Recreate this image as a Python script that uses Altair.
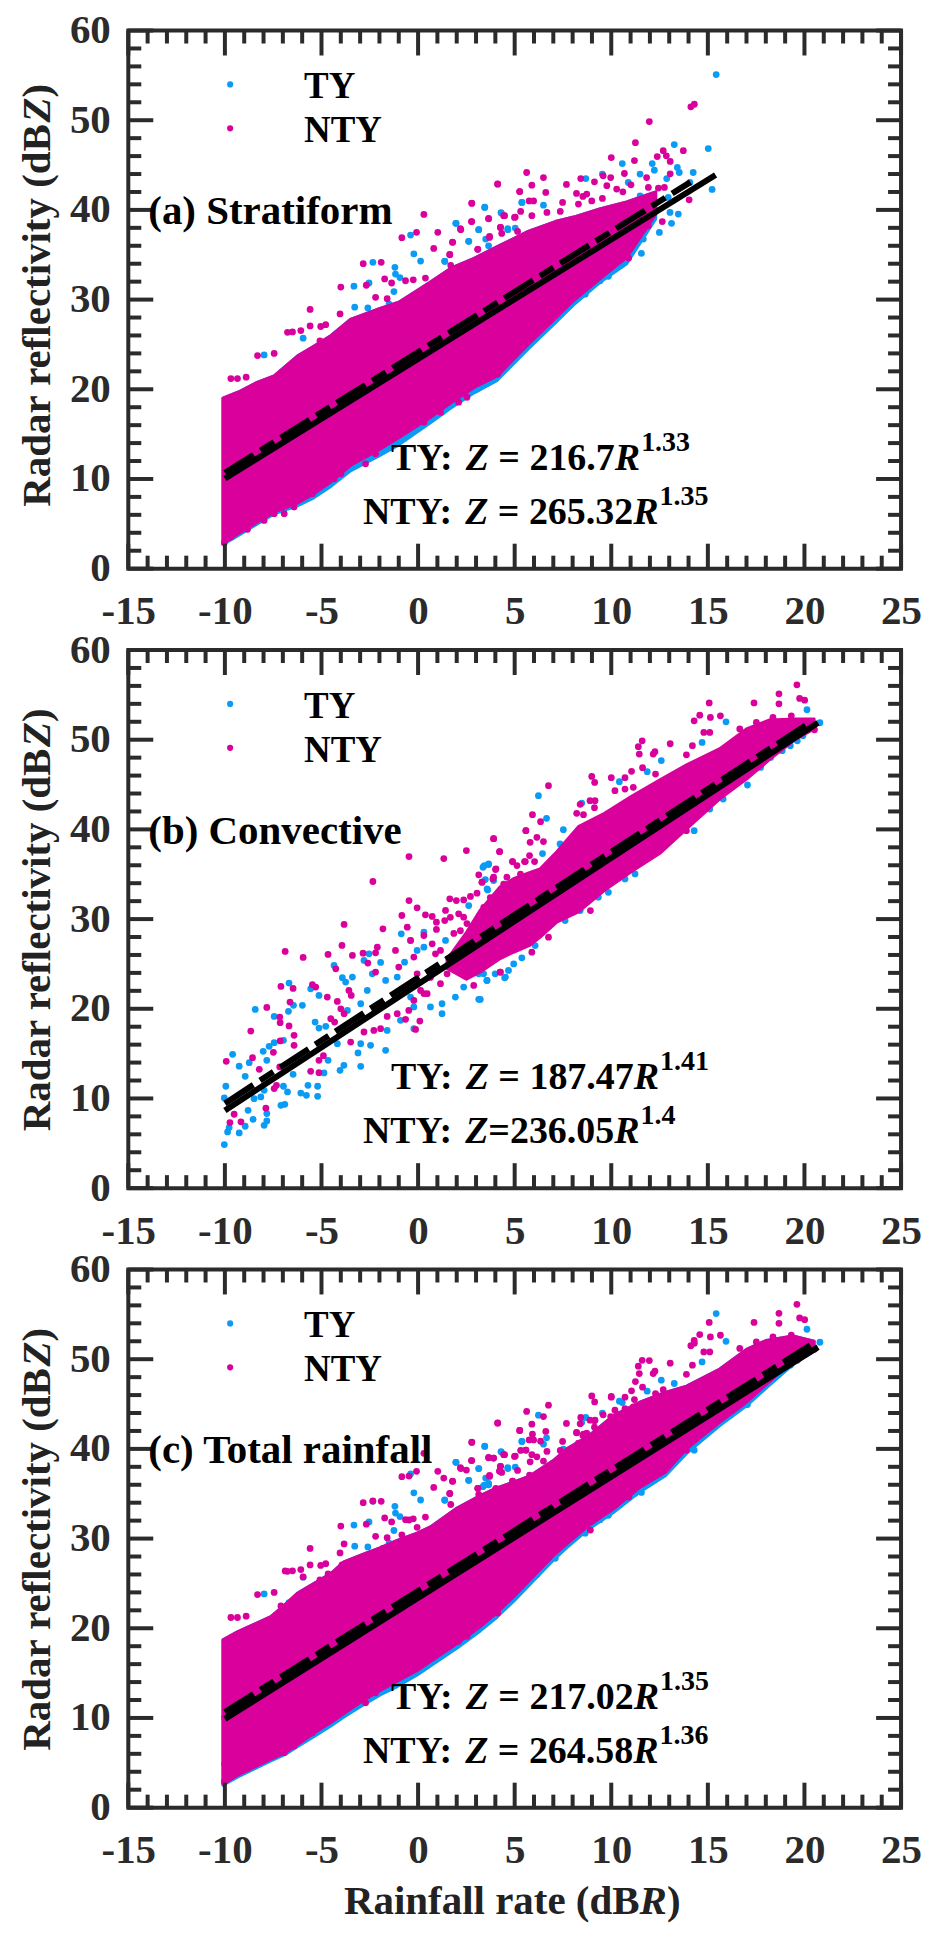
import altair as alt
import pandas as pd

BLUE = "#0b9bf5"
PINK = "#d9009b"
DARK = "#2b2b2b"
FONT = "Liberation Serif"

x_major = [-15, -10, -5, 0, 5, 10, 15, 20, 25]
x_minor = [-14, -13, -12, -11, -9, -8, -7, -6, -4, -3, -2, -1, 1, 2, 3, 4, 6, 7, 8, 9,
           11, 12, 13, 14, 16, 17, 18, 19, 21, 22, 23, 24]
y_major = [0, 10, 20, 30, 40, 50, 60]
y_minor = [2, 4, 6, 8, 12, 14, 16, 18, 22, 24, 26, 28, 32, 34, 36, 38, 42, 44, 46, 48, 52, 54, 56, 58]

# ---- panel (a) Stratiform: envelope of the dense cloud
a_x = [-10.1, -9.3, -8.3, -7.45, -6.25, -5.4, -4.5, -3.5, -2, -1, 0.6, 1.7, 2.9, 4.1, 5.7, 7.1, 8.05, 9.4, 10.8, 12.3]
a_top = [19.0, 19.7, 20.8, 21.5, 23.7, 24.8, 26, 27.8, 29, 29.7, 31.9, 33.5, 34.6, 35.9, 37.6, 38.7, 39.2, 40.1, 40.9, 42.0]
a_bot = [2.8, 3.9, 5.2, 6.3, 7.3, 8.35, 9.7, 11.5, 13.3, 14.6, 16.8, 18.5, 20.2, 21.5, 25, 27.9, 29.9, 32.3, 34.7, 39.5]
a_fringe = [2.7, 3.7, 5.0, 6.1, 7.0, 7.9, 9.2, 10.9, 12.6, 13.8, 16.2, 17.9, 19.6, 21.0, 24.5, 27.4, 29.4, 31.9, 34.0, 39.0]

a_blue_x = [-2.34, -0.39, -0.22, 0.13, 1.97, 3.45, 3.14, 2.62, 1.38, -1.2, -1.17, -0.94, -3.32, -2.54, -1.25, -3.28, -2.6, -1.5,
            -5.95, -7.97, -4.0, 5.38, 4.29, 4.64, -9.6,
            15.43, 15.02, 13.26, 10.57, 12.12, 15.22, 14.24, 13.42, 13.52, 12.23, 11.49, 8.68, 9.54, 10.88, 12.87,
            5.37, 6.49, 3.45, 1.95, 3.14, 2.62, 4.65, 4.31, 5.03, 1.38, 3.65, 3.5, 11.56, 13.04, 13.47, 13.12, 12.49,
            11.66, 10.45, 9.85, 9.42, 8.65, 7.1, 6.15, 5.72, 4.55, 3.99, 3.05, 3.22, 1.23, 14.07, 12.95, 11.49]
a_blue_y = [34.15, 37.2, 35.1, 34.3, 38.5, 40.3, 37.8, 36.5, 34.3, 33.6, 32.85, 32.45, 31.5, 31.85, 30.9, 29.15, 29.07, 29.5,
            25.7, 23.83, 26.4, 40.83, 39.7, 37.9, 18.9,
            55.09, 46.84, 47.29, 45.17, 45.17, 42.28, 44.17, 44.73, 44.17, 44.43, 44.0, 43.5, 44, 43.06, 43.5,
            40.83, 40.53, 40.27, 38.5, 37.8, 36.5, 37.8, 39.65, 37.97, 34.26, 36, 36.75, 35.15, 39.72, 39.53, 38.5, 37.49,
            36.75, 33.78, 32.6, 32.1, 30.6, 27.8, 26, 25.17, 23.09, 21.34, 20.04, 21.34, 17.45, 43.06, 41.39, 41.57]
a_pink_x = [4.12, 5.26, 2.78, 0.30, 3.65, 2.76, 4.43, 4.26, 2.19, 5.03, -0.08, -0.84, 1.02, 1.78, 0.81, 1.64, 3.7, 3.09,
            -2.84, -1.91, -4.0, -2.68, -1.73, -1.37, -0.65, -0.25, 0.38, -5.59, -2.2, -1.6, -6.76, -6.5, -6.07, -5.59,
            -5.04, -4.78, -5.08, -8.31, -7.45, -9.69, -9.35, -8.9, -4.04,
            14.3, 14.12, 11.97, 11.25, 12.69, 13.73, 12.38, 12.85, 13.05, 10.0, 11.2, 10.68, 13.05, 5.62, 6.49, 8.42,
            9.58, 9.97, 11.83, 4.12, 5.89, 7.68, 5.26, 6.61, 9.13, 5.75, 5.98, 2.78, 8.2, 8.73, 8.53, 9.54, 9.77, 10.28,
            10.6, 11.02, 11.92, 12.44, 12.75, 14.03, 7.48, 4.48, 5.31, 5.89, 3.65, 2.78, 2.21, 4.27, 4.33, 3.7, 1.79,
            3.09, 1.64, 1.69, 4.99, 6.67, 7.36, 8.3, 8.99, 5.15, 10.9, 11.3, 11.92, 12.64, 12.09, 11.66, 10.97, 4.12,
            -6.93, -8.83, -7.97, -7.45, -10.03, -9.69, -6.42, -5.47, -4.35, -4.0, -2.72, -2.2, 0.3, 1.16, 2.1, 2.53, 4.08]
a_pink_y = [42.9, 42.05, 40.76, 39.5, 39.05, 38.7, 39.35, 38.05, 37.9, 39.2, 37.5, 36.9, 37.5, 36.4, 35.7, 35.0, 37.05, 35.6,
            34.0, 34.15, 31.4, 31.6, 32.3, 31.85, 32.1, 32.2, 32.4, 28.9, 30.25, 30.1, 26.35, 26.4, 26.54, 27.06,
            27.0, 27.2, 25.4, 23.76, 24.0, 21.2, 21.2, 21.35, 28.4,
            51.78, 51.5, 49.85, 47.5, 46.6, 46.6, 45.95, 46.03, 45.4, 45.84, 45.5, 44.06, 44.02, 44.17, 43.6, 43.5,
            43.8, 43.6, 43.6, 42.87, 42.76, 42.84, 42.05, 41.95, 43.13, 41.0, 41.0, 40.72, 41.84, 41.76, 41.5, 41.28, 42.7, 42.32,
            42.02, 42.8, 42.5, 42.43, 42.5, 41.13, 40.83, 39.35, 39.83, 39.35, 39.0, 38.7, 37.8, 38.05, 37.38, 36.93, 36.38,
            35.6, 35.04, 33.8, 39.16, 39.72, 39.83, 40.65, 41, 37.6, 34.63, 36.75, 38.23, 38.7, 41.2, 37.86, 35.8, 21.7,
            6.13, 4.38, 5.38, 6.13, 2.9, 3.53, 6.87, 8.35, 10.02, 10.58, 11.69, 12.81, 16.33, 17.45, 18.56, 19.11, 22.27]

# ---- panel (b) Convective: envelope of the dense part
b_x = [1.5, 2.5, 3.22, 4.25, 4.94, 5.8, 6.32, 7.18, 8.3, 9.65, 11.05, 12.5, 13.9, 15.62, 17, 18.2, 19.5, 20.5]
b_top = [25.5, 28.5, 31, 33.6, 34.5, 35.2, 35.6, 37.5, 40.3, 41.8, 43.7, 45.5, 47.2, 49, 51.2, 52.2, 52.3, 52.3]
b_bot = [24.5, 23.3, 24.1, 25.6, 26.3, 27.1, 28.0, 29.65, 30.8, 33.2, 35.3, 37.3, 40.05, 43.4, 45.6, 47.8, 50.0, 51.2]

b_blue_x = [-10.03, -9.86, -9.78, -9.26, -8.95, -8.54, -7.97, -7.83, -8.8, -7.83, -7.1, -6.9, -5.7, -5.2, -6.07, -5.78, -5.2,
            -9.95, -10.03, -8.74, -9.6, -9.26, -8.95, -8.43, -7.45, -6.71, -6.45, -5.99, -6.68, -5.56, -5.13, -5.33, -5.13,
            -4.78, -8.02, -7.71, -7.45, -6.97, -7.83, -8.14, -8.49, -7.97, -6.97, -6.76, -6.47, -4.87, -4.04, -3.84, -2.97,
            -4.66, -3.11, -1.68, -4.35, -3.92, -3.4, -3.75, -2.8, -2.54, -1.94, -2.37, -1.68, -2.63, -2.97, -3.66, -4.18,
            -2.97, -2.46, -1.6, -0.91, -0.22, -0.87, -0.39, -0.05, 0.3, 0.3, -0.7, -1.08, -0.39, -0.22, 0.64, 1.24, 1.24,
            3.14, 3.43, 3.65, 3.57, 3.91, 2.62, 1.42, 3.57, 4.52, 4.95, 2.36, 1.93, 3.14,
            20.13, 20.8, 15.94, 12.59, 11.86, 10.42, 6.23, 6.65, 7.52, 8.47, 7.35, 6.44, 3.65, 3.36, 3.48, 3.6, 3.99,
            14.29, 13.98, 15.1, 15.79, 17.05, 17.73, 18.25, 18.85, 19.27, 19.63, 19.92, 11.23, 10.71, 9.85, 9.33, 8.39,
            7.61, 6.06, 5.37, 4.68, 4.48, 3.99, 3.56, 3.22, 3.39, 14.7]
b_blue_y = [4.86, 6.27, 6.75, 6.16, 6.9, 7.68, 7.01, 7.5, 8.68, 8.31, 9.24, 9.35, 11.47, 11.36, 10.6, 10.35, 10.24,
            11.36, 10.06, 13.99, 14.92, 13.6, 12.47, 19.93, 19.15, 19.71, 20.38, 20.38, 22.86, 22.23, 21.49, 18.52, 17.85,
            18.04, 15.25, 15.81, 16.22, 16.48, 14.25, 10.17, 9.98, 10.91, 11.36, 10.73, 12.69, 12.84, 13.14, 13.7, 13.58,
            14.25, 15.07, 15.37, 24.83, 23.46, 23.53, 22.98, 25.39, 26.13, 25.17, 23.9, 23.16, 22.05, 20.56, 19.82, 16.11,
            16.11, 15.92, 17.59, 18.71, 17.78, 28.36, 27.62, 26.5, 28.54, 26.87, 25.2, 23.53, 21.3, 20.2, 20.2, 19.45, 20.56,
            21.05, 35.97, 36.15, 33.37, 34.3, 31.51, 27.62, 23.16, 23.53, 25, 22.42, 21.3, 23.9,
            53.34, 51.89, 52, 47.66, 46.43, 45.32, 43.76, 41.23, 39.97, 42.94, 38.38, 37.3, 36.08, 35.78, 34.4, 33.25, 32.25,
            39.86, 40.6, 42.27, 43.39, 44.95, 46.91, 48.03, 48.77, 49.33, 49.88, 50.44, 35.04, 34.48, 32.99, 32.44, 30.95,
            29.84, 27.05, 25.68, 24.27, 23.45, 23.9, 23.16, 21.04, 23.9, 49.7]
b_pink_x = [-0.47, 1.33, 2.5, 3.91, 5.58, 4.22, -2.34, -3.83, -1.82, -0.84, -6.88, -5.95, -4.66, -3.94, -3.4, -2.85, -2.11, -2.2,
            -2.6, -2.2, -4.26, -8.66, -7.83, -7.1, -6.47, -5.47, -5.3, -6.63, -7.16, -7.14, -6.68, -4.7, -3.58, -3.46, -4.18,
            -4.0, -3.83, -4.52, -4.32, -6.42, -7.14, -6.42, -7.49, -8.57, -9.93, -8.22, -7.16, -7.45, -7.33, -5.56, -5.13,
            -5.13, -4.9, -7.88, -9.52, -9.74, -9.17, -3.49, -2.8, -2.29, -1.94, -1.6, -1.08, -0.65, -0.13, 0.09, -0.48, -1,
            -1.17, -0.56, -0.39, 0.3, -0.47, -0.05, 0.38, 0.73, 0.95, 0.95, 1.38, 1.64, 1.98, 2.36, 2.71, 3.05, 1.42, 3.14,
            3.31, 3.91, 4.03, 4.89, 5.12, 5.55, 4.26, 2.88, 2.36, 2.1, 0.73, 0.9, -0.22, -0.05, -0.22, 0.13, 0.47,
            19.61, 19.75, 20.01, 18.68, 18.68, 17.39, 15.07, 14.58, 14.29, 15.13, 15.65, 14.79, 15.1, 11.6, 11.4, 11.45, 13.05,
            12.26, 12.17, 14.2, 13.89, 6.75, 8.99, 9.14, 10, 11.05, 10.71, 11.62, 12.29, 11.14, 10.19, 10.71, 8.39, 8.9, 9.16,
            9.13, 8.21, 8.56, 5.92, 6.34, 5.58, 3.91, 4.22, 5.8, 6.15, 6.49, 5.77, 4.89, 5.51, 6.03, 4.01, 3.87, 3.31, 8.92,
            13.89, 5.89, 6.75, 4.25, 16.65, 17.51, 18.37, 19.32, 20.52,
            0.64, 1.5, 1.85, 2.36, 0.3, 1.16, 2.36, 1.67, 2.19, 2.53, 2.96, 1.85, 1.16, 3.4, 3.74, 4.43, 4.6, 5.3]
b_pink_y = [36.97, 36.75, 37.64, 38.97, 39.87, 37.53, 34.19, 29.4, 28.91, 30.4, 26.39, 25.72, 26.06, 27.06, 25.95, 26.2, 26.87, 26.24,
            25.09, 24.09, 24.46, 17.52, 20.15, 22.49, 22.27, 22.68, 22.42, 20.75, 19.08, 18.45, 18.08, 21.3, 22.05, 21.49, 20.82,
            20, 19.45, 18.89, 18.52, 17.04, 16.41, 15.92, 15.14, 14.55, 14.14, 13.25, 13.51, 11.1, 11.47, 13.03, 12.88,
            14.25, 14.77, 8.91, 8.24, 7.31, 7.39, 16.29, 17.41, 17.59, 17.78, 19.15, 19.45, 18.82, 17.7, 18.63, 19.82, 24.65,
            26.5, 29.1, 27.62, 28.17, 32.07, 31.25, 30.47, 30.29, 29.66, 28.84, 29.84, 32.26, 32.07, 32.14, 32.52, 32.89, 30.96, 34.93,
            34.11, 34.67, 35.6, 36.41, 35.97, 36.41, 24.09, 22.6, 30.21, 30.59, 27.24, 26.13, 25.76, 23.9, 20.93, 22.05, 21.68,
            56.12, 54.6, 54.41, 55.12, 54, 54.1, 54.1, 52.74, 52.11, 52.48, 52.67, 50.81, 50.81, 49.88, 49.22, 48.4, 49.55,
            48.66, 48.4, 49.33, 48.32, 44.87, 45.91, 45.24, 45.76, 46.47, 45.76, 46.88, 46.17, 44.69, 44.32, 44.5, 42.79, 43.2, 43.2,
            42.42, 41.79, 41.64, 41.64, 40.86, 39.86, 38.97, 37.52, 38.56, 39.12, 38.64, 37.08, 36.41, 36.41, 36.41, 35.52, 34.48, 34.11, 30.95,
            39.86, 26.31, 27.98, 24.08, 51.2, 51.92, 52.48, 52.67, 51.11,
            23.5, 23.9, 25, 25.4, 21.7, 22.8, 23.9, 30.2, 28.7, 29.5, 28.7, 28.4, 26.5, 31.3, 32.4, 33.9, 34.67, 35]

# ---- panel (c) Total rainfall: envelope; its scattered points are those of (a) and (b) together
c_x = [-10.1, -9.35, -7.62, -6.9, -6.25, -5.4, -4.52, -3.84, -2.8, -1.94, -1.08, -0.05, 0.64, 2.02, 3.22, 3.91, 4.94, 5.8, 7, 7.7,
       8.8, 10.11, 11.48, 12.8, 13.9, 15.62, 17, 18.03, 19.4, 20.5]
c_top = [18.7, 19.6, 21.3, 22.6, 23.9, 25, 26.1, 27.4, 28.3, 29, 29.8, 30.6, 31.3, 33.4, 34.8, 35.5, 36.3, 37, 38.7, 40,
         41.4, 43.7, 45.2, 46.3, 47, 48.9, 51.1, 52.1, 52.6, 52]
c_bot = [2.6, 3.6, 5.4, 6.1, 7, 8.3, 9.5, 10.5, 12, 13.1, 14.1, 15.3, 16.3, 18.3, 20.2, 21.4, 23.5, 25.4, 28.1, 29.4,
         31.4, 33.3, 35.7, 37.4, 40, 43, 45.2, 47.2, 49.8, 51.4]
c_fringe = [2.5, 3.4, 5.2, 5.9, 6.8, 7.9, 9.1, 10.1, 11.5, 12.6, 13.5, 14.8, 15.8, 17.8, 19.7, 20.9, 23.0, 24.9, 27.6, 29.0,
            31.0, 32.9, 35.2, 37.0, 39.5, 42.6, 44.8, 46.8, 49.4, 51.0]

# ---- fitted lines: end points
lines = {
    "a": {"ty_x": [-10, 15.4], "ty_y": [10.06, 43.9], "nty_x": [-10, 14.1], "nty_y": [10.7, 43.1]},
    "b": {"ty_x": [-10, 20.7], "ty_y": [8.65, 51.9], "nty_x": [-10, 20.1], "nty_y": [9.45, 51.65]},
    "c": {"ty_x": [-10, 20.7], "ty_y": [9.9, 51.35], "nty_x": [-10, 20.3], "nty_y": [10.65, 51.55]},
}

panel_labels = {"a": "(a) Stratiform", "b": "(b) Convective", "c": "(c) Total rainfall"}
equations = {
    "a": [("TY: ", "= 216.7", "1.33", True), ("NTY: ", "= 265.32", "1.35", True)],
    "b": [("TY: ", "= 187.47", "1.41", True), ("NTY: ", "=236.05", "1.4", False)],
    "c": [("TY: ", "= 217.02", "1.35", True), ("NTY: ", "= 264.58", "1.36", True)],
}

W, H = 774, 539

# Times-bold advance widths, used only to butt the styled runs of a text against each other
ADV = {" ": .25, ":": .333, "=": .57, ".": .25, "T": .667, "Y": .722, "N": .722, "(": .333, ")": .333, "d": .556, "B": .667,
       "R": .722, "a": .5, "r": .444, "e": .444, "f": .333, "l": .278, "c": .444, "t": .333, "i": .278, "v": .5, "y": .5,
       "n": .556, "Z_it": .611, "R_it": .667}


def adv(s, size):
    return sum(ADV.get(ch, .5) for ch in s) * size


def txt(s, x, y, size, italic=False, color="black", angle=None):
    kw = dict(font=FONT, fontWeight="bold", fontSize=size, align="left", baseline="alphabetic", color=color)
    if italic:
        kw["fontStyle"] = "italic"
    if angle is not None:
        kw["angle"] = angle
    return alt.Chart(alt.Data(values=[{"k": 0}])).mark_text(**kw).encode(
        x=alt.value(x), y=alt.value(y), text=alt.value(s))


def equation(parts, x, y):
    head, mid, exp, spaced = parts
    size = 38
    out = [txt(head.strip(), x, y, size)]
    cx = x + adv(head, size)
    out.append(txt("Z", cx, y, size, italic=True))
    cx += ADV["Z_it"] * size + (ADV[" "] * size if spaced else 0)
    out.append(txt(mid, cx, y, size))
    cx += adv(mid, size)
    out.append(txt("R", cx, y, size, italic=True))
    cx += ADV["R_it"] * size
    out.append(txt(exp, cx + 1, y - 19, 28))
    return out


def y_title(bottom, size=41):
    base = -78
    s1 = "Radar reflectivity (dB"
    out = [txt(s1, base, bottom, size, color="#222222", angle=270)]
    c = bottom - adv(s1, size)
    out.append(txt("Z", base, c, size, italic=True, color="#222222", angle=270))
    c -= ADV["Z_it"] * size
    out.append(txt(")", base, c, size, color="#222222", angle=270))
    return out


def x_title():
    size = 41
    s1 = "Rainfall rate (dB"
    x0 = 216
    base = H + 107
    out = [txt(s1, x0, base, size, color="#222222")]
    c = x0 + adv(s1, size)
    out.append(txt("R", c, base, size, italic=True, color="#222222"))
    out.append(txt(")", c + ADV["R_it"] * size, base, size, color="#222222"))
    return out


xscale = alt.Scale(domain=[-15, 25], nice=False, zero=False)
yscale = alt.Scale(domain=[0, 60], nice=False, zero=False)
xaxis = alt.Axis(values=x_major, title=None, domain=False, ticks=False, grid=False, labelFont=FONT, labelFontWeight="bold",
                 labelFontSize=41, labelColor=DARK, labelPadding=23, labelOverlap=False, labelFlush=False,
                 labelExpr="datum.value + ''")
yaxis = alt.Axis(values=y_major, title=None, domain=False, ticks=False, grid=False, labelFont=FONT, labelFontWeight="bold",
                 labelFontSize=41, labelColor=DARK, labelPadding=18, labelOverlap=False, labelFlush=False,
                 labelExpr="datum.value + ''")
X = alt.X("x:Q", scale=xscale, axis=xaxis)
Y = alt.Y("y:Q", scale=yscale, axis=yaxis)


def area(xs, top, bot, color):
    df = pd.DataFrame({"x": xs, "y": top, "y2": bot})
    return alt.Chart(df).mark_area(color=color, opacity=1, interpolate="linear", stroke=color, strokeWidth=3,
                                   strokeJoin="round").encode(x=X, y=Y, y2="y2:Q")


def pts(xs, ys, color):
    df = pd.DataFrame({"x": xs, "y": ys})
    return alt.Chart(df).mark_circle(color=color, size=46, opacity=1).encode(x=X, y=Y)


def line(xs, ys, dash=None):
    df = pd.DataFrame({"x": xs, "y": ys})
    kw = dict(color="black", strokeWidth=6, strokeCap="butt")
    if dash:
        kw["strokeDash"] = dash
    return alt.Chart(df).mark_line(**kw).encode(x=X, y=Y)


def xticks(vals, size):
    df = pd.DataFrame({"x": vals})
    m = alt.Chart(df).mark_rule(color=DARK, strokeWidth=4)
    return [m.encode(x=X, y=alt.value(0), y2=alt.value(size)),
            m.encode(x=X, y=alt.value(H), y2=alt.value(H - size))]


def yticks(vals, size):
    df = pd.DataFrame({"y": vals})
    m = alt.Chart(df).mark_rule(color=DARK, strokeWidth=4)
    return [m.encode(y=Y, x=alt.value(0), x2=alt.value(size)),
            m.encode(y=Y, x=alt.value(W), x2=alt.value(W - size))]


def legend(y1, y2):
    out = []
    for yy, col, name in [(y1, BLUE, "TY"), (y2, PINK, "NTY")]:
        out.append(alt.Chart(alt.Data(values=[{"k": 0}])).mark_point(filled=True, color=col, size=38, opacity=1, shape="circle")
                   .encode(x=alt.value(102), y=alt.value(yy)))
        out.append(txt(name, 176, yy + 14, 37))
    return out


def panel(key, base_layers, title_bottom, last=False):
    layers = list(base_layers)
    ln = lines[key]
    layers.append(line(ln["nty_x"], ln["nty_y"], dash=[34, 8, 16, 8]))
    layers.append(line(ln["ty_x"], ln["ty_y"]))
    layers += xticks(x_minor, 13) + xticks(x_major, 25) + yticks(y_minor, 13) + yticks(y_major, 25)
    layers += legend(54, 98)
    layers.append(txt(panel_labels[key], 20, 194, 41))
    layers += equation(equations[key][0], 263, 440)
    layers += equation(equations[key][1], 235, 494)
    layers += y_title(title_bottom)
    if last:
        layers += x_title()
    return alt.layer(*layers).properties(width=W, height=H)


a = panel("a", [area(a_x, a_top, a_fringe, BLUE), pts(a_blue_x, a_blue_y, BLUE),
                area(a_x, a_top, a_bot, PINK), pts(a_pink_x, a_pink_y, PINK)], 477)
b = panel("b", [pts(b_blue_x, b_blue_y, BLUE),
                area(b_x, b_top, b_bot, PINK), pts(b_pink_x, b_pink_y, PINK)], 482)
c = panel("c", [area(c_x, c_top, c_fringe, BLUE), pts(a_blue_x + b_blue_x, a_blue_y + b_blue_y, BLUE),
                area(c_x, c_top, c_bot, PINK), pts(a_pink_x + b_pink_x, a_pink_y + b_pink_y, PINK)], 482, last=True)

chart = alt.vconcat(a, b, c, spacing=81.5, bounds="flush").properties(
    padding={"left": 6.5, "top": -2, "right": 5, "bottom": 5}
).configure_view(stroke=DARK, strokeWidth=4)

chart.save("out.html", embed_options={"renderer": "svg", "actions": False})
